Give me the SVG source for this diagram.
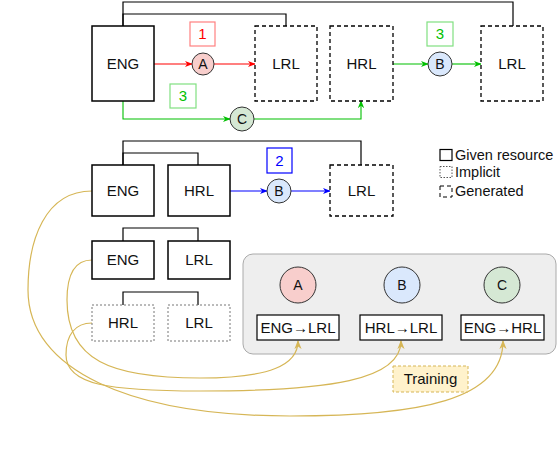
<svg xmlns="http://www.w3.org/2000/svg" width="560" height="450" viewBox="0 0 560 450">
<style>
text{font-family:"Liberation Sans",Arial,sans-serif;font-size:15px;fill:#111;text-anchor:middle}
.given{fill:#fff;stroke:#000;stroke-width:1.5}
.gen{fill:#fff;stroke:#000;stroke-width:1.3;stroke-dasharray:4,3}
.impl{fill:#fff;stroke:#777;stroke-width:1;stroke-dasharray:2,2}
.link{fill:none;stroke:#000;stroke-width:1.2}
.red{fill:none;stroke:#f00;stroke-width:1.1}
.green{fill:none;stroke:#00c000;stroke-width:1.1}
.blue{fill:none;stroke:#00f;stroke-width:1.1}
.gold{fill:none;stroke:#d6b656;stroke-width:1.2}
.leg{text-anchor:start;font-size:14.5px}
.tb{fill:#fff;stroke:#000;stroke-width:1.2}
.tt{font-size:14px}
.ts{font-size:15px}
</style>
<defs>
<marker id="ar" viewBox="0 0 10 10" refX="9" refY="5" markerWidth="8" markerHeight="8" orient="auto" markerUnits="userSpaceOnUse"><path d="M0,1 L10,5 L0,9 L3,5 z" fill="#f00"/></marker>
<marker id="ag" viewBox="0 0 10 10" refX="9" refY="5" markerWidth="8" markerHeight="8" orient="auto" markerUnits="userSpaceOnUse"><path d="M0,1 L10,5 L0,9 L3,5 z" fill="#00c000"/></marker>
<marker id="ab" viewBox="0 0 10 10" refX="9" refY="5" markerWidth="8" markerHeight="8" orient="auto" markerUnits="userSpaceOnUse"><path d="M0,1 L10,5 L0,9 L3,5 z" fill="#00f"/></marker>
<marker id="ay" viewBox="0 0 10 10" refX="9" refY="5" markerWidth="9" markerHeight="9" orient="auto" markerUnits="userSpaceOnUse"><path d="M0,1 L10,5 L0,9 L3,5 z" fill="#d6b656"/></marker>
</defs>

<g id="panel">
<rect x="243" y="254" width="313" height="100" rx="10" fill="#eeeeee" stroke="#aaa" stroke-width="1"/>
</g>

<g id="connectors">
<path class="link" d="M123,26 V2 H513 V26"/>
<path class="link" d="M123,26 V14 H286 V26"/>
<path class="red" d="M154,64 H192" marker-end="url(#ar)"/>
<path class="red" d="M214,64 H255" marker-end="url(#ar)"/>
<path class="green" d="M393,64 H428" marker-end="url(#ag)"/>
<path class="green" d="M452,64 H481" marker-end="url(#ag)"/>
<path class="green" d="M123,101 V119 H230" marker-end="url(#ag)"/>
<path class="green" d="M254,119 H361 V101" marker-end="url(#ag)"/>
<path class="link" d="M123,165 V141 H361 V165" stroke-width="2"/>
<path class="link" d="M123,165 V153 H198 V165"/>
<path class="blue" d="M230,191 H267" marker-end="url(#ab)"/>
<path class="blue" d="M291,191 H330" marker-end="url(#ab)"/>
<path class="link" d="M123,241 V228 H198 V241"/>
<path class="link" d="M123,305 V292 H198 V305"/>
<path class="gold" d="M92,191 C45,191 28,240 28,290 C28,370 130,416 290,416 C420,416 503,400 503,341" marker-end="url(#ay)"/>
<path class="gold" d="M92,260 C75,260 67,275 67,300 C67,360 110,378 200,378 C270,378 298,365 298,341" marker-end="url(#ay)"/>
<path class="gold" d="M92,323 C75,323 66,335 66,355 C66,385 110,391 200,391 C330,391 401,380 401,341" marker-end="url(#ay)"/>
</g>

<g id="label1"><rect x="190" y="22" width="25" height="24" fill="#fff" stroke="#ff8080" stroke-width="1.2"/><text x="202.5" y="39" style="fill:#f00">1</text></g>
<g id="label3a"><rect x="170" y="84" width="26" height="24" fill="#fff" stroke="#80e080" stroke-width="1.2"/><text x="183" y="101" style="fill:#00c000">3</text></g>
<g id="label3b"><rect x="427" y="22" width="26" height="24" fill="#fff" stroke="#80e080" stroke-width="1.2"/><text x="440" y="39" style="fill:#00c000">3</text></g>
<g id="label2"><rect x="267" y="148" width="25" height="25" fill="#fff" stroke="#00f" stroke-width="1.2"/><text x="279.5" y="166" style="fill:#00f">2</text></g>

<g id="eng1"><rect class="given" x="92" y="26" width="62" height="75"/><text x="123" y="69">ENG</text></g>
<g id="circA1"><circle cx="203" cy="64" r="11" fill="#f8cecc" stroke="#333"/><text x="203" y="69" class="tt">A</text></g>
<g id="lrl1"><rect class="gen" x="255" y="26" width="62" height="75"/><text x="286" y="69">LRL</text></g>
<g id="hrl1"><rect class="gen" x="330" y="26" width="63" height="75"/><text x="361.5" y="69">HRL</text></g>
<g id="circB1"><circle cx="440" cy="64" r="12" fill="#dae8fc" stroke="#333"/><text x="440" y="69" class="tt">B</text></g>
<g id="lrl2"><rect class="gen" x="481" y="26" width="62" height="75"/><text x="512" y="69">LRL</text></g>
<g id="circC1"><circle cx="242" cy="119" r="12" fill="#d5e8d4" stroke="#333"/><text x="242" y="124" class="tt">C</text></g>

<g id="eng2"><rect class="given" x="92" y="165" width="62" height="51"/><text x="123" y="196">ENG</text></g>
<g id="hrl2"><rect class="given" x="168" y="165" width="62" height="51"/><text x="199" y="196">HRL</text></g>
<g id="circB2"><circle cx="279" cy="191" r="12" fill="#dae8fc" stroke="#333"/><text x="279" y="196" class="tt">B</text></g>
<g id="lrl3"><rect class="gen" x="330" y="165" width="63" height="51"/><text x="361.5" y="196">LRL</text></g>

<g id="legend">
<rect x="440" y="149.5" width="12" height="11" fill="#fff" stroke="#000" stroke-width="1.2"/>
<text class="leg" x="455" y="160">Given resource</text>
<rect x="440" y="166.5" width="12" height="11" fill="#fff" stroke="#555" stroke-width="1" stroke-dasharray="1.5,1.5"/>
<text class="leg" x="455" y="177">Implicit</text>
<rect x="440" y="186" width="12" height="11" fill="#fff" stroke="#000" stroke-width="1" stroke-dasharray="4,3"/>
<text class="leg" x="455" y="196">Generated</text>
</g>

<g id="eng3"><rect class="given" x="92" y="241" width="62" height="38"/><text x="123" y="265">ENG</text></g>
<g id="lrl4"><rect class="given" x="168" y="241" width="62" height="38"/><text x="199" y="265">LRL</text></g>
<g id="hrl4"><rect class="impl" x="92" y="305" width="62" height="36"/><text x="123" y="328">HRL</text></g>
<g id="lrl5"><rect class="impl" x="168" y="305" width="62" height="36"/><text x="199" y="328">LRL</text></g>

<g id="modelA"><circle cx="298" cy="285" r="18" fill="#f8cecc" stroke="#333"/><text x="298" y="290" class="tt">A</text></g>
<g id="modelB"><circle cx="402" cy="285" r="18" fill="#dae8fc" stroke="#333"/><text x="402" y="290" class="tt">B</text></g>
<g id="modelC"><circle cx="502" cy="285" r="18" fill="#d5e8d4" stroke="#333"/><text x="502" y="290" class="tt">C</text></g>
<g id="taskA"><rect class="tb" x="257" y="315" width="82" height="25"/><text x="298" y="333" class="ts">ENG→LRL</text></g>
<g id="taskB"><rect class="tb" x="360" y="315" width="82" height="25"/><text x="401" y="333" class="ts">HRL→LRL</text></g>
<g id="taskC"><rect class="tb" x="461" y="315" width="83" height="25"/><text x="502.5" y="333" class="ts">ENG→HRL</text></g>

<g id="training"><rect x="393" y="366" width="75" height="26" fill="#fff2cc" stroke="#d6b656" stroke-width="1" stroke-dasharray="3,2"/><text x="430.5" y="384" class="ts">Training</text></g>
</svg>
